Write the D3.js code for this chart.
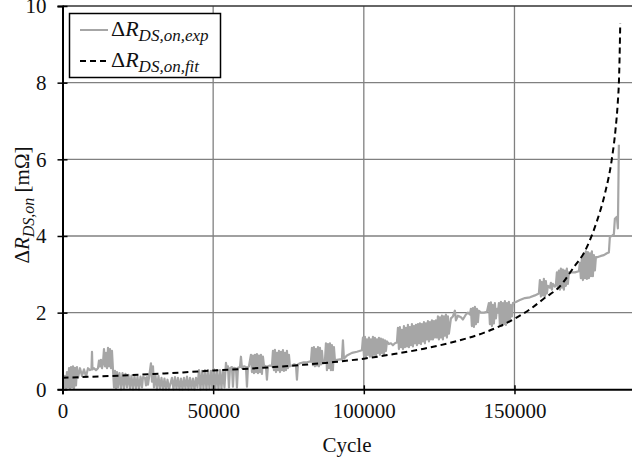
<!DOCTYPE html>
<html>
<head>
<meta charset="utf-8">
<script src="https://cdn.jsdelivr.net/npm/d3@7"></script>
<style>
  body { margin: 0; background: #fff; }
  svg { display: block; }
  svg text { font-family: "Liberation Serif", "Tinos", "Times New Roman", "DejaVu Serif", serif; }
</style>
</head>
<body>
<svg id="svgCanvas" width="632" height="461"></svg>
<script>
// tick values
var xTicks = [0, 50000, 100000, 150000];
var yTicks = [0, 2, 4, 6, 8, 10];

// measured resistance increase [cycle, mOhm]
var expData = [
  [170,0.30],[500,0.05],[830,0.35],[1160,0.00],[1490,0.45],[1830,0.05],
  [2160,0.55],[2490,0.02],[2820,0.58],[3150,0.05],[3480,0.60],[3820,0.02],[4150,0.56],[4480,0.10],[4810,0.58],[5140,0.30],
  [5810,0.55],[6470,0.35],[7130,0.52],[7800,0.33],[8460,0.55],[9130,0.50],[9620,0.52],[9790,0.98],[9950,0.52],
  [10450,0.55],[11120,0.50],[11780,0.55],
  [12110,0.75],[12440,0.60],[12770,0.77],[13110,0.55],[13440,0.70],
  [13770,1.05],[14100,0.60],[14430,0.95],[14770,0.55],[15100,1.08],[15430,0.60],[15760,1.05],[16090,0.55],[16420,1.00],[16760,0.50],
  [17090,0.05],[17420,0.48],[17750,0.02],[18080,0.45],[18410,0.05],[18910,0.42],[19410,0.00],[19910,0.42],[20410,0.02],[20900,0.40],
  [21400,0.05],[21900,0.38],[22400,0.02],[22890,0.36],[23390,0.00],[23890,0.35],[24390,0.03],[24890,0.33],[25380,0.00],[25880,0.33],
  [26380,0.05],[26710,0.32],
  [27380,0.30],[27710,0.10],[28040,0.32],[28370,0.12],[28700,0.30],
  [29360,0.68],[29700,0.20],[30030,0.60],[30360,0.05],
  [30860,0.37],[31350,0.00],[31850,0.35],[32350,0.02],[32850,0.30],[33350,0.00],[33840,0.28],[34340,0.00],[34840,0.25],[35340,0.00],
  [36330,0.30],[36830,0.00],[37330,0.32],[37830,0.02],[38320,0.30],[38820,0.00],[39320,0.28],[39820,0.00],[40310,0.30],[40810,0.02],
  [41310,0.33],[41810,0.00],[42310,0.30],[42800,0.02],[43300,0.28],[43800,0.00],[44300,0.30],[44790,0.05],
  [45290,0.50],[45790,0.00],[46290,0.48],[46780,0.02],[47280,0.50],[47780,0.00],[48280,0.50],[48770,0.02],[49270,0.48],[49770,0.00],
  [50270,0.52],[50770,0.02],[51260,0.50],[51760,0.00],[52260,0.50],[52760,0.02],[53250,0.50],[53750,0.05],
  [54250,0.69],[54580,0.50],[54910,0.60],[55240,0.05],[55580,0.55],[56240,0.58],[56570,0.07],[56910,0.56],[57570,0.55],[57900,0.05],
  [58230,0.56],[58900,0.58],[59230,0.85],[59560,0.55],[60220,0.60],[60890,0.58],[61220,0.07],[61550,0.58],[61880,0.60],
  [62550,0.90],[62880,0.45],[63210,0.88],[63540,0.42],[63870,0.90],[64200,0.45],[64530,0.92],[64870,0.42],[65200,0.88],[65530,0.45],
  [65860,0.90],[66190,0.40],[66520,0.85],
  [66860,0.62],[67520,0.60],[67850,0.25],[68180,0.60],[68850,0.62],[69510,0.60],
  [69840,1.00],[70170,0.50],[70500,1.03],[70840,0.45],[71170,0.95],[71500,0.50],[71830,1.00],[72170,0.45],[72500,0.98],[72830,0.50],
  [73160,1.02],[73490,0.48],[73830,0.95],[74160,0.50],[74490,1.00],[74820,0.55],[75150,0.90],[75490,0.60],
  [76150,0.62],[76810,0.65],[77480,0.63],[77810,0.25],[78140,0.65],[78800,0.68],[79800,0.70],[80790,0.70],[81790,0.72],[82450,0.72],
  [82790,1.08],[83120,0.63],[83450,1.10],[83780,0.60],[84110,1.05],[84440,0.62],[84780,1.10],[85110,0.60],[85440,1.08],[85770,0.65],
  [86100,1.00],[86440,0.70],
  [87100,0.75],[87430,1.20],[87760,0.50],[88090,1.18],[88430,0.55],[88760,1.20],[89090,0.50],[89420,1.15],[89750,0.50],[90080,1.10],[90420,0.75],
  [91080,0.77],[92080,0.78],[92740,0.78],[93070,1.28],[93400,0.80],[94400,0.88],[96060,0.95],[97720,0.98],[99380,1.02],
  [99710,1.35],[100040,0.88],[100370,1.37],[100700,0.85],[101030,1.30],[101370,0.90],[101700,1.35],[102030,0.85],[102360,1.30],[102690,0.88],
  [103020,1.37],[103360,0.90],[103690,1.34],[104020,0.85],[104350,1.30],[104680,0.95],[105020,1.34],[105350,0.90],[105680,1.32],[106010,0.95],
  [106340,1.30],[106680,0.90],[107010,1.28],[107340,1.00],[107670,1.25],
  [108330,1.18],[109000,1.20],[109660,1.15],[110320,1.20],[110990,1.22],
  [111320,1.60],[111650,1.05],[111980,1.62],[112320,1.10],[112650,1.55],[112980,1.05],[113310,1.65],[113640,1.10],[113970,1.60],[114310,1.12],
  [114640,1.68],[114970,1.10],[115300,1.62],[115630,1.15],[115970,1.70],[116300,1.12],[116630,1.65],[116960,1.20],[117290,1.68],[117620,1.15],
  [117960,1.70],[118290,1.20],[118620,1.72],[118950,1.18],[119280,1.70],[119620,1.25],[119950,1.75],[120280,1.20],[120610,1.72],[120940,1.30],
  [121270,1.78],[121610,1.25],[121940,1.75],[122270,1.30],[122600,1.80],[122930,1.30],[123270,1.78],[123600,1.35],[123930,1.80],
  [124260,1.35],[124590,1.90],[124920,1.30],[125260,1.88],[125590,1.35],[125920,1.92],[126250,1.30],[126580,1.90],[126920,1.40],[127250,1.95],
  [127580,1.35],[127910,1.90],[128240,1.45],
  [128910,1.85],[129570,1.90],[130230,2.05],[130570,1.80],[131230,1.92],[132230,1.88],[132890,1.82],[133880,1.95],[134550,2.00],[135210,1.95],
  [135540,2.10],[135870,1.65],[136200,2.12],[136540,1.63],[136870,2.15],[137200,1.70],[137530,2.10],[137860,1.75],[138200,2.05],
  [138860,2.00],[139860,2.00],[140850,2.02],
  [141510,2.25],[141850,1.70],[142180,2.27],[142510,1.65],[142840,2.20],[143170,1.72],[143500,2.25],[143840,1.85],[144170,2.10],[144500,2.00],
  [144830,2.25],[145160,1.68],[145500,2.28],[145830,1.65],[146160,2.25],[146490,1.70],[146820,2.30],[147160,1.68],[147490,2.25],[147820,1.75],
  [148150,2.28],[148480,1.80],[148810,2.20],[149150,1.90],[149480,2.25],
  [150470,2.28],[151800,2.33],[153460,2.38],[155120,2.40],[156780,2.45],[158100,2.50],
  [158440,2.85],[158770,2.42],[159100,2.80],[159430,2.45],[159760,2.88],[160090,2.40],[160430,2.82],[160760,2.50],[161090,2.70],[161750,2.65],
  [162090,2.78],[162420,2.60],[162750,2.75],[163410,2.68],[163740,2.72],
  [164080,3.05],[164410,2.62],[164740,3.10],[165070,2.60],[165400,3.15],[165740,2.65],[166070,3.12],[166400,2.60],[166730,3.10],[167060,2.70],
  [167390,3.15],[167730,2.75],[168060,3.05],
  [168720,3.05],[170050,3.05],[171380,3.08],
  [171710,3.30],[172040,2.90],[172370,3.45],[172700,2.85],[173030,3.55],[173370,2.90],[173700,3.60],[174030,2.88],[174360,3.58],[174690,2.90],
  [175030,3.55],[175360,2.95],[175690,3.60],[176020,2.95],[176350,3.50],[176690,3.10],[177020,3.45],
  [177680,3.45],[178680,3.48],[179670,3.50],[180670,3.55],[181330,3.57],
  [181660,3.98],[182330,4.00],[182990,4.05],[183320,4.45],[183990,4.50],[184320,4.20],[184650,6.38]
];

// fitted curve [cycle, mOhm]
var fitData = [
  [0,0.30],[10000,0.33],[20000,0.36],[30000,0.40],[40000,0.44],[50000,0.49],[60000,0.53],[70000,0.58],
  [80000,0.64],[90000,0.71],[100000,0.80],[110000,0.92],[120000,1.06],[130000,1.24],[140000,1.48],[145000,1.64],
  [150000,1.84],[155000,2.08],[160000,2.38],[165000,2.68],[170000,3.22],[173000,3.55],[175500,3.98],[177500,4.42],
  [180000,5.10],[182300,6.00],[183500,6.75],[184300,7.50],[184700,8.10],[184950,8.90],[185100,9.55]
];

var svg = d3.select("#svgCanvas");
var x = d3.scaleLinear().domain([0, 190000]).range([62.5, 635]);
var y = d3.scaleLinear().domain([0, 10]).range([389.3, 6]);

// grid
var grid = svg.append("g").attr("stroke", "#808080").attr("stroke-width", 1.3);
grid.selectAll("line.v").data(xTicks.slice(1)).enter().append("line")
  .attr("x1", function(d){return x(d)}).attr("x2", function(d){return x(d)})
  .attr("y1", y(10)).attr("y2", y(0));
grid.selectAll("line.h").data(yTicks.slice(1, -1)).enter().append("line")
  .attr("x1", x(0)).attr("x2", x(190000))
  .attr("y1", function(d){return y(d)}).attr("y2", function(d){return y(d)});
svg.append("line").attr("x1", x(0)).attr("x2", x(190000)).attr("y1", y(10)).attr("y2", y(10))
  .attr("stroke", "#333").attr("stroke-width", 1.5);

// lines
var line = d3.line().x(function(d){return x(d[0])}).y(function(d){return y(d[1])});
svg.append("path").datum(expData).attr("d", line)
  .attr("fill", "none").attr("stroke", "#a6a6a6").attr("stroke-width", 2.2)
  .attr("stroke-linejoin", "round");
svg.append("path").datum(fitData).attr("d", line.curve(d3.curveMonotoneX))
  .attr("fill", "none").attr("stroke", "#000").attr("stroke-width", 2)
  .attr("stroke-dasharray", "6,4");

// axes
var xAxis = svg.append("g").attr("transform", "translate(0," + y(0) + ")")
  .call(d3.axisBottom(x).tickValues(xTicks).tickFormat(d3.format("d")).tickSize(5).tickPadding(9));
var yAxis = svg.append("g").attr("transform", "translate(" + x(0) + ",0)")
  .call(d3.axisLeft(y).tickValues(yTicks).tickSize(5).tickPadding(11));
[xAxis, yAxis].forEach(function(a){
  a.attr("font-family", null).attr("font-size", null);
  a.select(".domain").attr("stroke", "#000").attr("stroke-width", 2);
  a.selectAll(".tick line").attr("stroke", "#000").attr("stroke-width", 1.5);
  a.selectAll(".tick text").attr("font-size", 21).attr("fill", "#111");
});
yAxis.selectAll(".tick line").attr("x2", 5).attr("x1", -5);
xAxis.selectAll(".tick line").attr("y1", -4);

// axis titles
svg.append("text").attr("x", 347).attr("y", 452).attr("text-anchor", "middle")
  .attr("font-size", 21).attr("fill", "#111").text("Cycle");

var yt = svg.append("text").attr("transform", "translate(29,205) rotate(-90)")
  .attr("text-anchor", "middle").attr("font-size", 21).attr("fill", "#111");
yt.append("tspan").text("Δ");
yt.append("tspan").attr("font-style", "italic").text("R");
yt.append("tspan").attr("font-style", "italic").attr("font-size", 16).attr("dy", 5).text("DS,on");
yt.append("tspan").attr("dy", -5).text(" [mΩ]");

// legend
var lg = svg.append("g");
lg.append("rect").attr("x", 69.5).attr("y", 13.5).attr("width", 151).attr("height", 64)
  .attr("fill", "#fff").attr("stroke", "#000").attr("stroke-width", 1.5);
var items = [
  {sub: "DS,on,exp", color: "#a6a6a6", dash: null, yy: 30},
  {sub: "DS,on,fit", color: "#000", dash: "6,4", yy: 61}
];
items.forEach(function(it){
  lg.append("line").attr("x1", 80).attr("x2", 108).attr("y1", it.yy).attr("y2", it.yy)
    .attr("stroke", it.color).attr("stroke-width", 2).attr("stroke-dasharray", it.dash);
  var t = lg.append("text").attr("x", 111).attr("y", it.yy + 6).attr("font-size", 22).attr("fill", "#111");
  t.append("tspan").text("Δ");
  t.append("tspan").attr("font-style", "italic").text("R");
  t.append("tspan").attr("font-style", "italic").attr("font-size", 17).attr("dy", 5).text(it.sub);
});
</script>
</body>
</html>
